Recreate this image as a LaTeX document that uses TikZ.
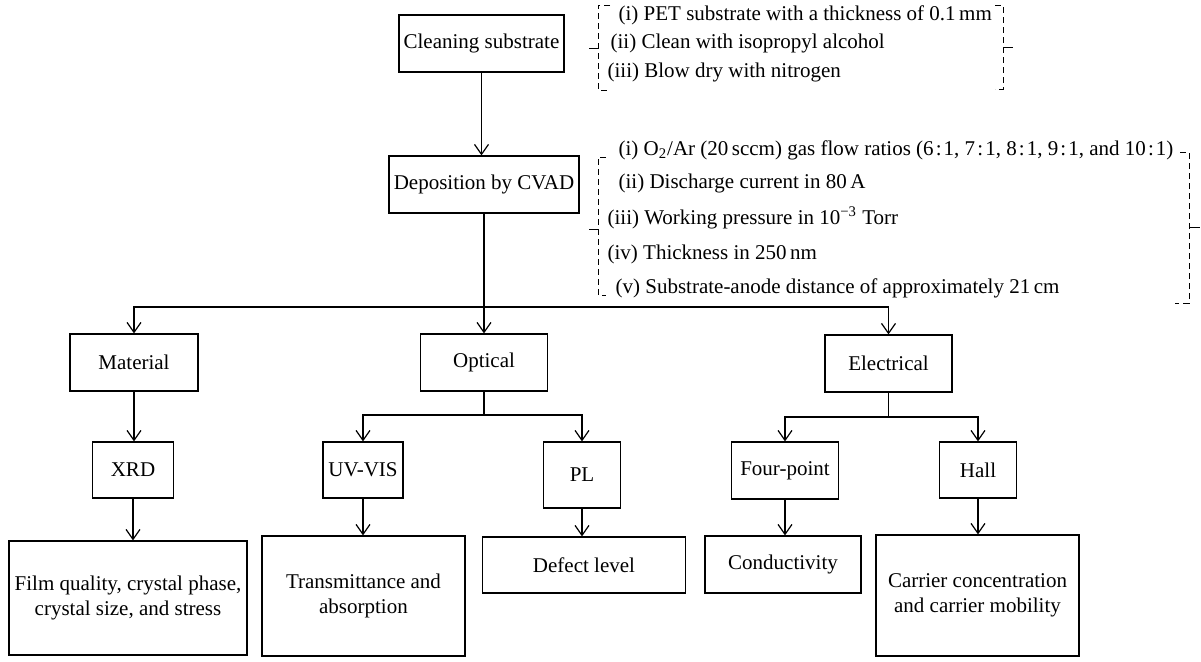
\documentclass[tikz,border=0pt]{standalone}
\usepackage{fontspec}
\setmainfont{Liberation Serif}
\usetikzlibrary{arrows.meta}

\newcommand{\ratio}[2]{#1\kern0.1em:\kern0.1em#2}

\begin{document}
\begin{tikzpicture}[x=0.5pt, y=-0.5pt, line width=0.6pt,
	font=\fontsize{10.5}{12.5}\selectfont,
	box/.style={draw, inner sep=0pt, align=center},
	arr/.style={-{Straight Barb[length=5pt,width=7pt]}},
	item/.style={anchor=west, inner sep=0pt, text height=7pt, text depth=2pt},
	brk/.style={line width=0.5pt, dash pattern=on 3pt off 2pt},
	tick/.style={line width=0.5pt}]
	\useasboundingbox (0,0) rectangle (1201,661);

	% main column
	\node[box, minimum width=82.5pt, minimum height=28.5pt] (clean) at (481.5,43.5) {Cleaning substrate};
	\node[box, minimum width=95pt, minimum height=28.5pt] (cvad) at (484,184.5) {Deposition by CVAD};

	\node[box, minimum width=64pt, minimum height=28.5pt] (material) at (134,362.5) {Material};
	\node[box, minimum width=63.5pt, minimum height=28.5pt] (optical) at (484,362.5) {Optical};
	\node[box, minimum width=63.5pt, minimum height=28.5pt] (electrical) at (888.5,363.5) {Electrical};

	\node[box, minimum width=40.5pt, minimum height=28pt] (xrd) at (133,470) {XRD};
	\node[box, minimum width=40pt, minimum height=28pt] (uvvis) at (363,470) {UV-VIS};
	\node[box, minimum width=38.5pt, minimum height=33pt] (pl) at (582,475) {PL};
	\node[box, minimum width=53.5pt, minimum height=28.5pt] (fourpt) at (785,470.5) {Four-point};
	\node[box, minimum width=38.5pt, minimum height=28pt] (hall) at (978,470) {Hall};

	\node[box, minimum width=119pt, minimum height=57pt] (film) at (128,598) {Film quality, crystal phase,\\crystal size, and stress};
	\node[box, minimum width=101.5pt, minimum height=60pt] (trans) at (363.5,596) {Transmittance and\\absorption};
	\node[box, minimum width=101.5pt, minimum height=28pt] (defect) at (584,565) {Defect level};
	\node[box, minimum width=78pt, minimum height=28.5pt] (cond) at (783,564.5) {Conductivity};
	\node[box, minimum width=101.5pt, minimum height=60.5pt] (carrier) at (977.5,595.5) {Carrier concentration\\and carrier mobility};

	% conditions
	\node[item] (clean1) at (618,15) {(i) PET substrate with a thickness of 0.1\,mm};
	\node[item] (clean2) at (610,43) {(ii) Clean with isopropyl alcohol};
	\node[item] (clean3) at (607,72) {(iii) Blow dry with nitrogen};

	\node[item] (dep1) at (618,150) {(i) O\textsubscript{2}/Ar (20\,sccm) gas flow ratios (\ratio{6}{1}, \ratio{7}{1}, \ratio{8}{1}, \ratio{9}{1}, and \ratio{10}{1})};
	\node[item] (dep2) at (618,183) {(ii) Discharge current in 80\,A};
	\node[item] (dep3) at (607,219) {(iii) Working pressure in 10\textsuperscript{−3} Torr};
	\node[item] (dep4) at (607,254) {(iv) Thickness in 250\,nm};
	\node[item] (dep5) at (615,288) {(v) Substrate-anode distance of approximately 21\,cm};

	\draw[brk] (610,5) -- (598,5) -- (598,90) -- (610,90);
	\draw[tick] (598,48) -- (589,48);
	\draw[brk] (995,5) -- (1003,5) -- (1003,89) -- (995,89);
	\draw[tick] (1003,47) -- (1013,47);

	\draw[brk] (606,157) -- (598,157) -- (598,295) -- (606,295);
	\draw[tick] (598,229) -- (589,229);
	\draw[brk] (1180,152) -- (1189,152) -- (1189,303) -- (1175,303);
	\draw[tick] (1189,227) -- (1200,227);

	% arrows
	\coordinate (split) at (484,307);
	\coordinate (optsplit) at (484,415);
	\coordinate (elsplit) at (888.5,417);

	\draw[arr] (clean.south) -- (clean.south |- cvad.north);
	\draw (cvad.south) -- (split);
	\draw[arr] (split) -- (optical.north);
	\draw[arr] (split) -| (material.north);
	\draw[arr] (split) -| (electrical.north);

	\draw[arr] (material.south) -- (material.south |- xrd.north);
	\draw (optical.south) -- (optsplit);
	\draw[arr] (optsplit) -| (uvvis.north);
	\draw[arr] (optsplit) -| (pl.north);
	\draw (electrical.south) -- (elsplit);
	\draw[arr] (elsplit) -| (fourpt.north);
	\draw[arr] (elsplit) -| (hall.north);

	\draw[arr] (xrd.south) -- (xrd.south |- film.north);
	\draw[arr] (uvvis.south) -- (uvvis.south |- trans.north);
	\draw[arr] (pl.south) -- (pl.south |- defect.north);
	\draw[arr] (fourpt.south) -- (fourpt.south |- cond.north);
	\draw[arr] (hall.south) -- (hall.south |- carrier.north);

\end{tikzpicture}
\end{document}
